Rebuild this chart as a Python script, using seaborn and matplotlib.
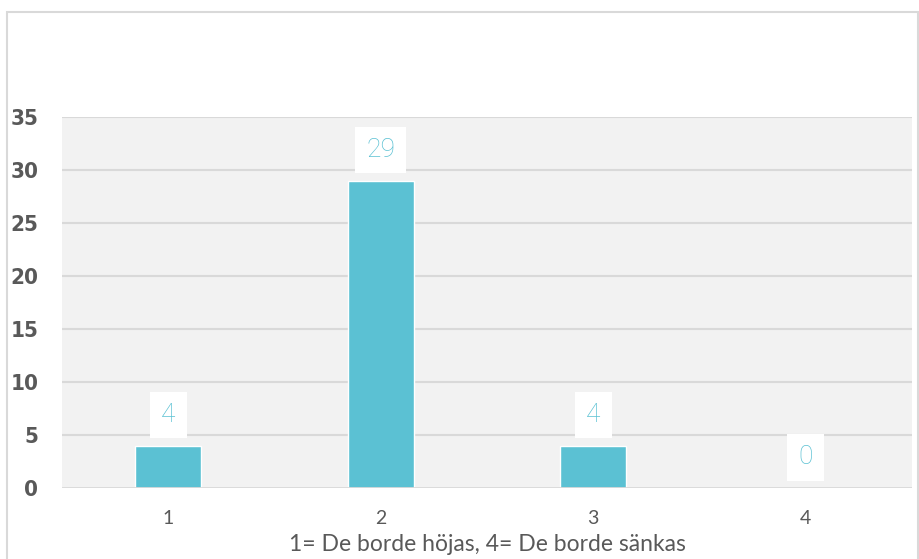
import matplotlib.pyplot as plt
import seaborn as sns
from matplotlib.patches import Rectangle

categories = ["1", "2", "3", "4"]
counts = [4, 29, 4, 0]
xlabel = "1= De borde höjas, 4= De borde sänkas"

bar_color = "#5BC1D3"
grid_color = "#D9D9D9"
text_color = "#595959"

sns.set_style("white")
fig = plt.figure(figsize=(9.2, 5.59), dpi=100)
ax = fig.add_axes([0.0674, 0.127, 0.9239, 0.6637])
ax.set_facecolor("#F2F2F2")

sns.barplot(x=categories, y=counts, color=bar_color, saturation=1, width=0.31, ax=ax)

ax.set_ylim(0, 35)
ax.set_xlim(-0.5, 3.5)
ax.set_yticks(range(0, 36, 5))
for y in range(5, 36, 5):
    ax.axhline(y, color=grid_color, lw=1.5, zorder=0.5)
for s in ax.spines.values():
    s.set_visible(False)
ax.axhline(0, color=grid_color, lw=2, zorder=3)

ax.tick_params(axis="y", length=0, pad=17)
ax.tick_params(axis="x", length=0, pad=16)
for lab in ax.get_yticklabels():
    lab.set_fontfamily("DejaVu Sans")
    lab.set_fontstretch("condensed")
    lab.set_fontweight("bold")
    lab.set_fontsize(16)
    lab.set_color(text_color)
for lab in ax.get_xticklabels():
    lab.set_fontfamily("Lato")
    lab.set_fontsize(14)
    lab.set_color(text_color)

ax.set_xlabel(xlabel, fontfamily="Lato", fontsize=16.5, color=text_color, labelpad=5)
ax.set_ylabel("")

for i, v in enumerate(counts):
    ax.annotate(str(v), xy=(i, v), xytext=(0, 22), textcoords="offset points",
                ha="center", va="center", fontsize=19, fontfamily="Roboto",
                fontweight="light", color=bar_color,
                bbox=dict(boxstyle="square,pad=0.42", fc="white", ec="none"))

fig.patches.append(Rectangle((7 / 920, -0.05), 911 / 920, 1.05 - 12 / 559,
                             transform=fig.transFigure, fill=False,
                             ec=grid_color, lw=1.5, zorder=0))

fig.savefig("out.png", dpi=100)
